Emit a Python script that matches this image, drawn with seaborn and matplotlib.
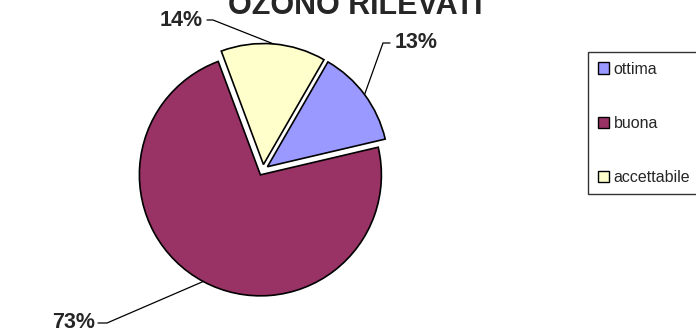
import numpy as np
import matplotlib
matplotlib.use("Agg")
import matplotlib.pyplot as plt
import seaborn as sns

# data
categories = ["ottima", "buona", "accettabile"]
values = [13, 73, 14]
colors = ["#9999FF", "#993366", "#FFFFCC"]
title = "OZONO RILEVATI"

sns.set_theme(style="white")
plt.rcParams["font.family"] = ["Liberation Sans", "DejaVu Sans"]

W, H = 696, 332
fig = plt.figure(figsize=(W / 100, H / 100), dpi=100)
ax = fig.add_axes([0, 0, 1, 1])

cx, cy, r = 263, H - 170, 121
# explode is in data units here (pixels), not a fraction of the radius
wedges, _ = ax.pie(values, colors=colors, startangle=60, counterclock=False,
                   center=(cx, cy), radius=r, explode=[5.5] * 3,
                   wedgeprops=dict(edgecolor="black", linewidth=1.2),
                   frame=True)
ax.set_xlim(0, W)
ax.set_ylim(0, H)
ax.set_aspect("equal")
ax.axis("off")

# label placement per category: (elbow x, elbow y, end x, text x, alignment), px from top-left
label_pos = [
    (383, 43, 390, 395, "left"),
    (107, 323, 98, 95, "right"),
    (213, 20, 207, 203, "right"),
]
total = sum(values)
for w, v, (ex, ey, tx_end, tx, ha) in zip(wedges, values, label_pos):
    mid = np.deg2rad((w.theta1 + w.theta2) / 2)
    px = w.center[0] + w.r * np.cos(mid)
    py = w.center[1] + w.r * np.sin(mid)
    ax.plot([px, ex, tx_end], [py, H - ey, H - ey], color="black", lw=0.9)
    ax.text(tx, H - ey, f"{v / total * 100:.0f}%", ha=ha, va="center",
            fontsize=15.5, fontweight="bold")

fig.text(355 / W, 1 - 14 / H, title, ha="center", va="baseline",
         fontsize=22, fontweight="bold")

leg = ax.legend(wedges, categories, loc="upper left",
                bbox_to_anchor=(588 / W, 1 - 52 / H), bbox_transform=fig.transFigure,
                fontsize=11.5, frameon=True, fancybox=False, borderaxespad=0,
                handlelength=0.7, handleheight=0.7, handletextpad=0.3,
                labelspacing=2.45, borderpad=0.6)
leg.get_frame().set_edgecolor("black")
leg.get_frame().set_linewidth(1.0)
for h in leg.legend_handles:
    h.set_linewidth(1.0)

fig.savefig("out.png", dpi=100)
